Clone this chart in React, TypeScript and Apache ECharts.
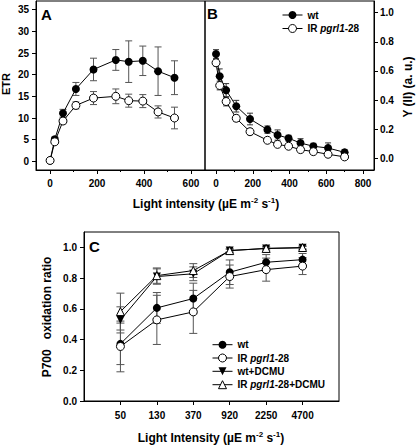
import React, { useEffect, useRef } from "react";
import * as echarts from "echarts";

// ---------- Data ----------
// Panel A: ETR vs light intensity
const lightA = [0, 20, 55, 110, 185, 280, 335, 395, 460, 530];
const etrWt = [0.2, 5.1, 11.1, 16.7, 21.2, 23.4, 23.0, 23.2, 20.8, 19.3];
const etrWtErr = [0.3, 0.5, 0.9, 1.5, 2.6, 2.4, 4.8, 3.4, 5.6, 3.9];
const etrIr = [0.2, 4.5, 9.3, 12.9, 14.6, 15.0, 14.0, 13.9, 11.4, 10.0];
const etrIrErr = [0.2, 0.4, 0.6, 0.8, 1.5, 1.7, 1.5, 1.5, 1.4, 2.5];

// Panel B: Y(II) vs light intensity
const lightB = [0, 20, 55, 110, 185, 280, 335, 395, 460, 530, 610, 700];
const yWt = [0.716, 0.564, 0.468, 0.358, 0.27, 0.197, 0.16, 0.138, 0.105, 0.083, 0.071, 0.041];
const yWtErr = [0.03, 0.05, 0.045, 0.04, 0.04, 0.025, 0.035, 0.02, 0.03, 0.02, 0.035, 0.02];
const yIr = [0.656, 0.5, 0.39, 0.275, 0.183, 0.124, 0.096, 0.083, 0.06, 0.046, 0.028, 0.01];
const yIrErr = [0.02, 0.03, 0.03, 0.02, 0.02, 0.015, 0.015, 0.015, 0.015, 0.015, 0.015, 0.01];

// Panel C: P700 oxidation ratio
const pLabels = ["50", "130", "370", "920", "2250", "4700"];
const pWt = [0.372, 0.606, 0.667, 0.838, 0.903, 0.92];
const pWtErr = [0.135, 0.1, 0.1, 0.08, 0.05, 0.04];
const pIr = [0.355, 0.528, 0.58, 0.81, 0.855, 0.878];
const pIrErr = [0.165, 0.16, 0.14, 0.075, 0.075, 0.055];
const pWtD = [0.528, 0.81, 0.828, 0.979, 0.993, 0.997];
const pWtDErr = [0.085, 0.05, 0.045, 0.01, 0.01, 0.01];
const pIrD = [0.582, 0.816, 0.849, 0.979, 0.993, 0.999];
const pIrDErr = [0.12, 0.05, 0.045, 0.01, 0.01, 0.01];

// Tick labels
const ticksA_x = [0, 200, 400, 600];
const minorA_x = [100, 300, 500];
const ticksA_y = [0, 5, 10, 15, 20, 25, 30, 35];
const ticksB_x = [0, 200, 400, 600, 800];
const minorB_x = [100, 300, 500, 700];
const ticksB_y = [0, 0.2, 0.4, 0.6, 0.8, 1.0];
const ticksC_y = [0, 0.2, 0.4, 0.6, 0.8, 1.0];

const NAME_WT = "wt";
const NAME_IR = "IR pgrl1-28";
const NAME_WTD = "wt+DCMU";
const NAME_IRD = "IR pgrl1-28+DCMU";

const FONT = "'Liberation Sans', Arial, sans-serif";

function errRender(capHalf: number, color: string) {
  return (params: any, api: any) => {
    const x = api.value(0);
    const lo = api.value(1);
    const hi = api.value(2);
    const p1 = api.coord([x, hi]);
    const p2 = api.coord([x, lo]);
    const style = { stroke: color, lineWidth: 1 };
    return {
      type: "group",
      children: [
        { type: "line", shape: { x1: p1[0], y1: p1[1], x2: p2[0], y2: p2[1] }, style },
        { type: "line", shape: { x1: p1[0] - capHalf, y1: p1[1], x2: p1[0] + capHalf, y2: p1[1] }, style },
        { type: "line", shape: { x1: p2[0] - capHalf, y1: p2[1], x2: p2[0] + capHalf, y2: p2[1] }, style },
      ],
    };
  };
}

function errData(xs: number[], ys: number[], es: number[]) {
  return xs.map((x, i) => [x, ys[i] - es[i], ys[i] + es[i]]);
}

const tickLabel = {
  fontSize: 10,
  fontWeight: "bold" as const,
  color: "#000",
  fontFamily: FONT,
};

const black = { color: "#000", width: 1 };
const axLine = { show: true, onZero: false, lineStyle: black };

function legendFormatter(name: string) {
  if (name.indexOf("pgrl1") >= 0) {
    const parts = name.split("pgrl1");
    return "{n|" + parts[0] + "}{i|pgrl1}{n|" + parts[1] + "}";
  }
  return "{n|" + name + "}";
}

const legendText = {
  fontSize: 10,
  fontWeight: "bold" as const,
  color: "#000",
  fontFamily: FONT,
  rich: {
    n: { fontSize: 10, fontWeight: "bold", color: "#000", fontFamily: FONT },
    i: { fontSize: 10, fontWeight: "bold", fontStyle: "italic", color: "#000", fontFamily: FONT },
  },
};

function mkLegend(name: string, left: number, centerY: number) {
  return {
    data: [name],
    orient: "vertical",
    left,
    top: centerY - 5,
    itemWidth: 20,
    itemHeight: 10,
    itemGap: 0,
    padding: 0,
    selectedMode: false,
    formatter: legendFormatter,
    textStyle: legendText,
    itemStyle: { borderWidth: 1 },
    lineStyle: { width: 1 },
  };
}

const titleRich = {
  a: { fontSize: 12, fontWeight: "bold", fontFamily: FONT, color: "#000", lineHeight: 16 },
  s: { fontSize: 8, fontWeight: "bold", fontFamily: FONT, color: "#000", verticalAlign: "top", lineHeight: 16 },
};

export default function App() {
  const ref = useRef<HTMLDivElement>(null);
  useEffect(() => {
    if (!ref.current) return;
    const chart = echarts.init(ref.current, null, { renderer: "svg" });

    const wtLine = { color: "#000", width: 1 };
    const filled = { color: "#000" };
    const open = { color: "#fff", borderColor: "#000", borderWidth: 1 };

    const option: any = {
      animation: false,
      backgroundColor: "#fff",
      grid: [
        { left: 36, top: 1, width: 169, height: 169, show: true, borderColor: "#000", borderWidth: 1, backgroundColor: "transparent" },
        { left: 205, top: 1, width: 169, height: 169, show: true, borderColor: "#000", borderWidth: 1, backgroundColor: "transparent" },
        { left: 84, top: 232, width: 255, height: 169, show: true, borderColor: "#000", borderWidth: 1, backgroundColor: "transparent" },
      ],
      xAxis: [
        {
          gridIndex: 0, type: "value", min: -60, max: 660, position: "bottom",
          axisLine: axLine,
          axisTick: { show: true, length: 4, customValues: ticksA_x, lineStyle: black },
          axisLabel: { ...tickLabel, margin: 8, customValues: ticksA_x },
          splitLine: { show: false },
        },
        {
          gridIndex: 0, type: "value", min: -60, max: 660, position: "bottom",
          axisLine: { show: false, onZero: false },
          axisTick: { show: true, length: 2, customValues: minorA_x, lineStyle: black },
          axisLabel: { show: false },
          splitLine: { show: false },
        },
        {
          gridIndex: 1, type: "value", min: -60, max: 860, position: "bottom",
          axisLine: axLine,
          axisTick: { show: true, length: 4, customValues: ticksB_x, lineStyle: black },
          axisLabel: { ...tickLabel, margin: 8, customValues: ticksB_x },
          splitLine: { show: false },
        },
        {
          gridIndex: 1, type: "value", min: -60, max: 860, position: "bottom",
          axisLine: { show: false, onZero: false },
          axisTick: { show: true, length: 2, customValues: minorB_x, lineStyle: black },
          axisLabel: { show: false },
          splitLine: { show: false },
        },
        {
          gridIndex: 2, type: "value", min: 0, max: 7, position: "bottom",
          axisLine: axLine,
          axisTick: { show: true, length: 4, customValues: [1, 2, 3, 4, 5, 6], lineStyle: black },
          axisLabel: {
            ...tickLabel, margin: 9, customValues: [1, 2, 3, 4, 5, 6],
            formatter: (v: number) => pLabels[Math.round(v) - 1] ?? "",
          },
          splitLine: { show: false },
        },
      ],
      yAxis: [
        {
          gridIndex: 0, type: "value", min: -2, max: 37, position: "left",
          axisLine: axLine,
          axisTick: { show: true, length: 4, customValues: ticksA_y, lineStyle: black },
          axisLabel: { ...tickLabel, margin: 7, customValues: ticksA_y },
          splitLine: { show: false },
        },
        {
          gridIndex: 1, type: "value", min: -0.08, max: 1.08, position: "right",
          axisLine: axLine,
          axisTick: { show: true, length: 4, customValues: ticksB_y, lineStyle: black },
          axisLabel: { ...tickLabel, margin: 6, customValues: ticksB_y, formatter: (v: number) => v.toFixed(1) },
          splitLine: { show: false },
        },
        {
          gridIndex: 2, type: "value", min: 0, max: 1.1, position: "left",
          axisLine: axLine,
          axisTick: { show: true, length: 4, customValues: ticksC_y, lineStyle: black },
          axisLabel: { ...tickLabel, margin: 7, customValues: ticksC_y, formatter: (v: number) => v.toFixed(1) },
          splitLine: { show: false },
        },
      ],
      legend: [
        mkLegend(NAME_WT, 282, 15),
        mkLegend(NAME_IR, 282, 28.5),
        mkLegend(NAME_WT, 212, 344.7),
        mkLegend(NAME_IR, 212, 358),
        mkLegend(NAME_WTD, 212, 371.3),
        mkLegend(NAME_IRD, 212, 384.7),
      ],
      series: [
        // Panel A
        { type: "custom", name: "errA_wt", xAxisIndex: 0, yAxisIndex: 0, renderItem: errRender(3.5, "#555"), data: errData(lightA, etrWt, etrWtErr), silent: true },
        { type: "custom", name: "errA_ir", xAxisIndex: 0, yAxisIndex: 0, renderItem: errRender(3.5, "#555"), data: errData(lightA, etrIr, etrIrErr), silent: true },
        { type: "line", name: NAME_WT, xAxisIndex: 0, yAxisIndex: 0, data: lightA.map((x, i) => [x, etrWt[i]]), symbol: "circle", symbolSize: 8, itemStyle: filled, lineStyle: wtLine },
        { type: "line", name: NAME_IR, xAxisIndex: 0, yAxisIndex: 0, data: lightA.map((x, i) => [x, etrIr[i]]), symbol: "circle", symbolSize: 8, itemStyle: open, lineStyle: wtLine },
        // Panel B
        { type: "custom", name: "errB_wt", xAxisIndex: 2, yAxisIndex: 1, renderItem: errRender(3, "#333"), data: errData(lightB, yWt, yWtErr), silent: true },
        { type: "custom", name: "errB_ir", xAxisIndex: 2, yAxisIndex: 1, renderItem: errRender(3, "#333"), data: errData(lightB, yIr, yIrErr), silent: true },
        { type: "line", name: NAME_WT, xAxisIndex: 2, yAxisIndex: 1, data: lightB.map((x, i) => [x, yWt[i]]), symbol: "circle", symbolSize: 8, itemStyle: filled, lineStyle: wtLine },
        { type: "line", name: NAME_IR, xAxisIndex: 2, yAxisIndex: 1, data: lightB.map((x, i) => [x, yIr[i]]), symbol: "circle", symbolSize: 8, itemStyle: open, lineStyle: wtLine },
        // Panel C
        { type: "custom", name: "errC_wt", xAxisIndex: 4, yAxisIndex: 2, renderItem: errRender(4, "#555"), data: errData(pLabels.map((_, i) => i + 1), pWt, pWtErr), silent: true },
        { type: "custom", name: "errC_ir", xAxisIndex: 4, yAxisIndex: 2, renderItem: errRender(4, "#555"), data: errData(pLabels.map((_, i) => i + 1), pIr, pIrErr), silent: true },
        { type: "custom", name: "errC_wtd", xAxisIndex: 4, yAxisIndex: 2, renderItem: errRender(4, "#555"), data: errData(pLabels.map((_, i) => i + 1), pWtD, pWtDErr), silent: true },
        { type: "custom", name: "errC_ird", xAxisIndex: 4, yAxisIndex: 2, renderItem: errRender(4, "#555"), data: errData(pLabels.map((_, i) => i + 1), pIrD, pIrDErr), silent: true },
        { type: "line", name: NAME_WT, xAxisIndex: 4, yAxisIndex: 2, data: pWt.map((v, i) => [i + 1, v]), symbol: "circle", symbolSize: 8, itemStyle: filled, lineStyle: wtLine },
        { type: "line", name: NAME_IR, xAxisIndex: 4, yAxisIndex: 2, data: pIr.map((v, i) => [i + 1, v]), symbol: "circle", symbolSize: 8, itemStyle: open, lineStyle: wtLine },
        { type: "line", name: NAME_WTD, xAxisIndex: 4, yAxisIndex: 2, data: pWtD.map((v, i) => [i + 1, v]), symbol: "triangle", symbolRotate: 180, symbolSize: 8, itemStyle: filled, lineStyle: wtLine },
        { type: "line", name: NAME_IRD, xAxisIndex: 4, yAxisIndex: 2, data: pIrD.map((v, i) => [i + 1, v]), symbol: "triangle", symbolSize: 8, itemStyle: open, lineStyle: wtLine },
      ],
      graphic: [
        { type: "text", x: 41, y: 14, style: { text: "A", fontSize: 15, fontWeight: "bold", fontFamily: FONT, fill: "#000", align: "left", verticalAlign: "middle" } },
        { type: "text", x: 207, y: 13, style: { text: "B", fontSize: 15, fontWeight: "bold", fontFamily: FONT, fill: "#000", align: "left", verticalAlign: "middle" } },
        { type: "text", x: 89, y: 246, style: { text: "C", fontSize: 15, fontWeight: "bold", fontFamily: FONT, fill: "#000", align: "left", verticalAlign: "middle" } },
        { type: "text", x: 6, y: 84, rotation: Math.PI / 2, style: { text: "ETR", fontSize: 11, fontWeight: "bold", fontFamily: FONT, fill: "#000", align: "center", verticalAlign: "middle" } },
        { type: "text", x: 408, y: 87, rotation: Math.PI / 2, style: { text: "Y (II) (a. u.)", fontSize: 12, fontWeight: "bold", fontFamily: FONT, fill: "#000", align: "center", verticalAlign: "middle" } },
        { type: "text", x: 206, y: 204, style: { text: "{a|Light intensity (µE m}{s|-2}{a| s}{s|-1}{a|)}", rich: titleRich, align: "center", verticalAlign: "middle" } },
        { type: "text", x: 47, y: 317, rotation: Math.PI / 2, style: { text: "P700   oxidation ratio", fontSize: 12, fontWeight: "bold", fontFamily: FONT, fill: "#000", align: "center", verticalAlign: "middle" } },
        { type: "text", x: 211, y: 438, style: { text: "{a|Light Intensity (µE m}{s|-2}{a| s}{s|-1}{a|)}", rich: titleRich, align: "center", verticalAlign: "middle" } },
      ],
    };

    chart.setOption(option);
    return () => chart.dispose();
  }, []);

  return <div ref={ref} style={{ position: "absolute", left: 0, top: 0, width: 416, height: 446 }} />;
}
